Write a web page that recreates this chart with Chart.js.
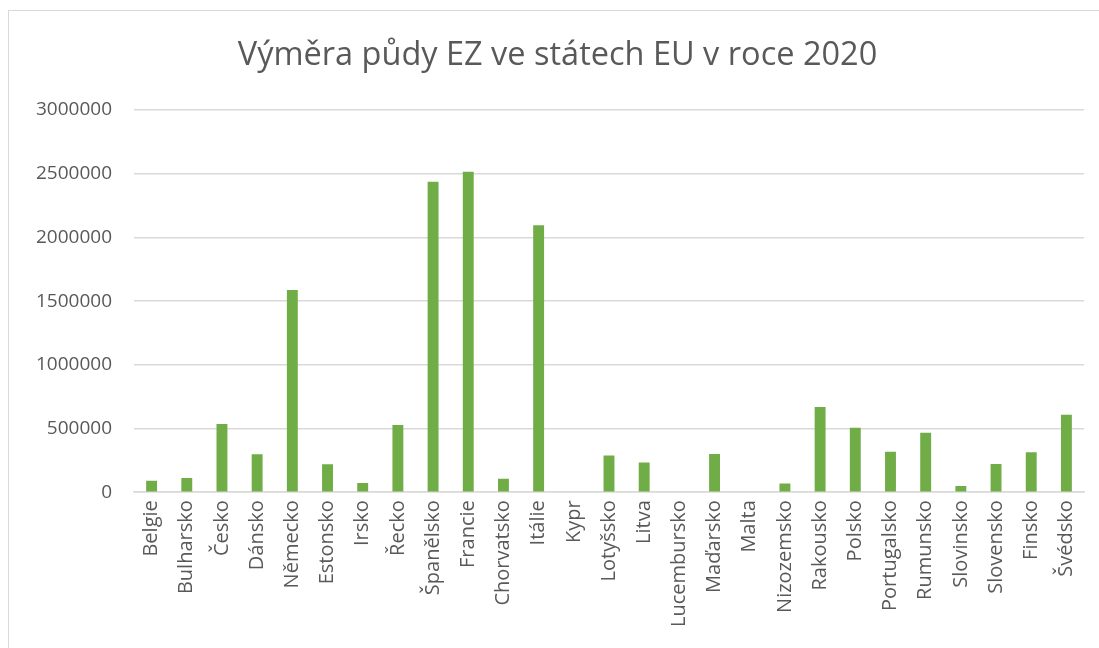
<!DOCTYPE html>
<html lang="cs">
<head>
    <meta charset="UTF-8">
    <title>Výměra půdy EZ ve státech EU v roce 2020</title>
    <script src="https://cdn.jsdelivr.net/npm/chart.js"></script>
    <style>
        body { margin: 0; background: #fff; overflow: hidden; }
        #box {
            position: absolute; left: 8px; top: 10px;
            width: 1120px; height: 650px;
            border: 1px solid #d9d9d9;
        }
        #wrap { position: absolute; left: 0; top: 0; width: 1108px; height: 638px; }
    </style>
</head>
<body>
    <div id="box">
        <div id="wrap"><canvas id="chart"></canvas></div>
    </div>

    <script>
        // státy EU
        const staty = ['Belgie', 'Bulharsko', 'Česko', 'Dánsko', 'Německo', 'Estonsko', 'Irsko', 'Řecko',
            'Španělsko', 'Francie', 'Chorvatsko', 'Itálie', 'Kypr', 'Lotyšsko', 'Litva', 'Lucembursko',
            'Maďarsko', 'Malta', 'Nizozemsko', 'Rakousko', 'Polsko', 'Portugalsko', 'Rumunsko',
            'Slovinsko', 'Slovensko', 'Finsko', 'Švédsko'];

        // výměra (ha)
        const vymera = [90000, 112000, 535000, 298000, 1588000, 220000, 72000, 528000,
            2437000, 2515000, 105000, 2095000, 5000, 288000, 233000, 5000,
            300000, 0, 68000, 669000, 507000, 318000, 466000,
            48000, 221000, 313000, 608000];

        const yTicks = [0, 500000, 1000000, 1500000, 2000000, 2500000, 3000000];

        const ctx = document.getElementById('chart').getContext('2d');
        new Chart(ctx, {
            type: 'bar',
            data: {
                labels: staty,
                datasets: [{
                    label: 'Výměra',
                    data: vymera,
                    backgroundColor: '#70ad47',
                    barPercentage: 0.31,
                    categoryPercentage: 1.0
                }]
            },
            options: {
                responsive: true,
                maintainAspectRatio: false,
                animation: false,
                layout: { padding: { left: 22, right: 33, top: 0, bottom: 14 } },
                scales: {
                    y: {
                        min: 0,
                        max: 3000000,
                        afterBuildTicks: axis => { axis.ticks = yTicks.map(v => ({ value: v })); },
                        afterFit: axis => { axis.width = 103; },
                        ticks: {
                            color: '#595959',
                            font: { family: 'Open Sans', size: 19 },
                            padding: 22,
                            callback: v => String(v)
                        },
                        grid: { color: '#d9d9d9', lineWidth: 1.5, drawTicks: false },
                        border: { display: false }
                    },
                    x: {
                        ticks: {
                            color: '#595959',
                            font: { family: 'Open Sans', size: 20 },
                            minRotation: 90,
                            maxRotation: 90,
                            autoSkip: false,
                            padding: 8
                        },
                        grid: { display: false, drawTicks: false },
                        border: { color: '#d9d9d9', width: 1.5 }
                    }
                },
                plugins: {
                    legend: { display: false },
                    tooltip: { enabled: false },
                    title: {
                        display: true,
                        text: 'Výměra půdy EZ ve státech EU v roce 2020',
                        color: '#595959',
                        font: { family: 'Open Sans', size: 32.5, weight: 'normal' },
                        padding: { top: 25, bottom: 35 }
                    }
                }
            }
        });
    </script>
</body>
</html>
